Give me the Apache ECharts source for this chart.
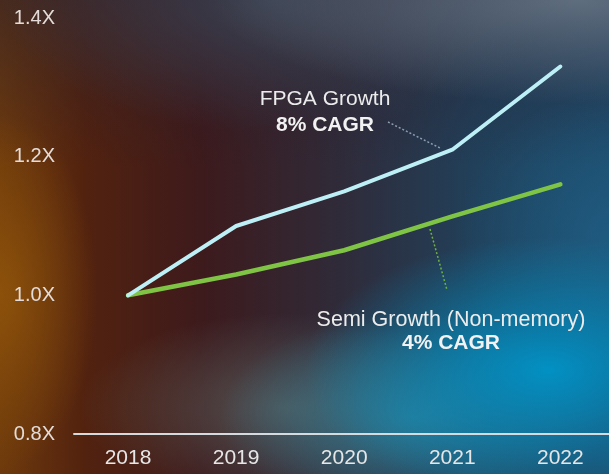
<!DOCTYPE html>
<html>
<head>
<meta charset="utf-8">
<script src="https://cdn.jsdelivr.net/npm/echarts@6/dist/echarts.min.js"></script>
<style>
html,body{margin:0;padding:0;width:609px;height:474px;overflow:hidden;}
#bg{position:absolute;left:0;top:0;width:609px;height:474px;
background:
 radial-gradient(ellipse 40% 28% at 90% 78%, rgba(0,148,200,0.95), rgba(0,148,200,0) 100%),
 radial-gradient(ellipse 32% 22% at 68% 88%, rgba(40,135,165,0.75), rgba(40,135,165,0) 100%),
 radial-gradient(ellipse 34% 20% at 47% 86%, rgba(100,112,108,0.6), rgba(100,112,108,0) 100%),
 radial-gradient(ellipse 25% 30% at 100% 50%, rgba(30,100,140,0.6), rgba(30,100,140,0) 100%),
 radial-gradient(ellipse 60% 22% at 95% 0%, rgba(115,130,145,0.75), rgba(115,130,145,0) 100%),
 radial-gradient(ellipse 45% 28% at 45% 0%, rgba(62,75,92,0.75), rgba(62,75,92,0) 100%),
 radial-gradient(ellipse 16% 38% at 0% 62%, rgba(145,85,10,0.85), rgba(145,85,10,0) 100%),
 linear-gradient(180deg, rgba(40,30,45,0.55) 0%, rgba(40,30,45,0) 35%),
 linear-gradient(90deg, #6e3a0c 0%, #52220f 14%, #3d1a1c 33%, #302a38 55%, #21405a 78%, #1e4c6c 100%);
}
#chart{position:absolute;left:0;top:0;width:609px;height:474px;}
</style>
</head>
<body>
<div id="bg"></div>
<div id="chart"></div>
<script>
var years = [2018, 2019, 2020, 2021, 2022];
var fpgaGrowth = [1.00, 1.10, 1.15, 1.21, 1.33];
var semiGrowth = [1.00, 1.03, 1.065, 1.114, 1.16];
var yTicks = [0.8, 1.0, 1.2, 1.4];

function pairs(vals){ return years.map(function(y,i){ return [y, vals[i]]; }); }

var chart = echarts.init(document.getElementById('chart'), null, {renderer:'canvas'});
var font = '"Liberation Sans", Arial, sans-serif';
chart.setOption({
  backgroundColor: 'transparent',
  animation: false,
  grid: {left: 74, right: 0, top: 18, bottom: 40},
  xAxis: {
    type: 'value', min: 2017.5, max: 2022.45,
    axisLine: {show: true, lineStyle: {color: '#d4dadd', width: 2}},
    axisTick: {show: false},
    splitLine: {show: false},
    axisLabel: {customValues: years, color: '#e6e6e6', fontSize: 21, fontFamily: font, margin: 14,
      formatter: function(v){ return String(v); }}
  },
  yAxis: {
    type: 'value', min: 0.8, max: 1.4, interval: 0.2,
    axisLine: {show: false}, axisTick: {show: false}, splitLine: {show: false},
    axisLabel: {color: '#e4dcd8', fontSize: 20, fontFamily: font, margin: 19,
      formatter: function(v){ return v.toFixed(1) + 'X'; }}
  },
  series: [
    {name: 'Semi Growth (Non-memory)', type: 'line', data: pairs(semiGrowth), symbol: 'none',
     lineStyle: {color: '#7fc444', width: 4.5, cap: 'round', join: 'round'}, z: 2},
    {name: 'FPGA Growth', type: 'line', data: pairs(fpgaGrowth), symbol: 'none',
     lineStyle: {color: '#bdf0f6', width: 4, cap: 'round', join: 'round'}, z: 3}
  ],
  graphic: [
    {type: 'text', style: {text: 'FPGA Growth', x: 325, y: 99, align: 'center', verticalAlign: 'middle', fill: '#ececec', font: '21px ' + font}},
    {type: 'text', style: {text: '8% CAGR', x: 325, y: 125, align: 'center', verticalAlign: 'middle', fill: '#f2f2f2', font: 'bold 21px ' + font}},
    {type: 'line', shape: {x1: 388, y1: 122, x2: 440, y2: 148}, style: {stroke: '#8a9cb0', lineWidth: 1.5, lineDash: [2, 2]}},
    {type: 'text', style: {text: 'Semi Growth (Non-memory)', x: 451, y: 320, align: 'center', verticalAlign: 'middle', fill: '#ececec', font: '21.5px ' + font}},
    {type: 'text', style: {text: '4% CAGR', x: 451, y: 343, align: 'center', verticalAlign: 'middle', fill: '#f2f2f2', font: 'bold 21px ' + font}},
    {type: 'line', shape: {x1: 430, y1: 229, x2: 447, y2: 290}, style: {stroke: '#6fb040', lineWidth: 1.5, lineDash: [2, 2]}}
  ]
});
</script>
</body>
</html>
